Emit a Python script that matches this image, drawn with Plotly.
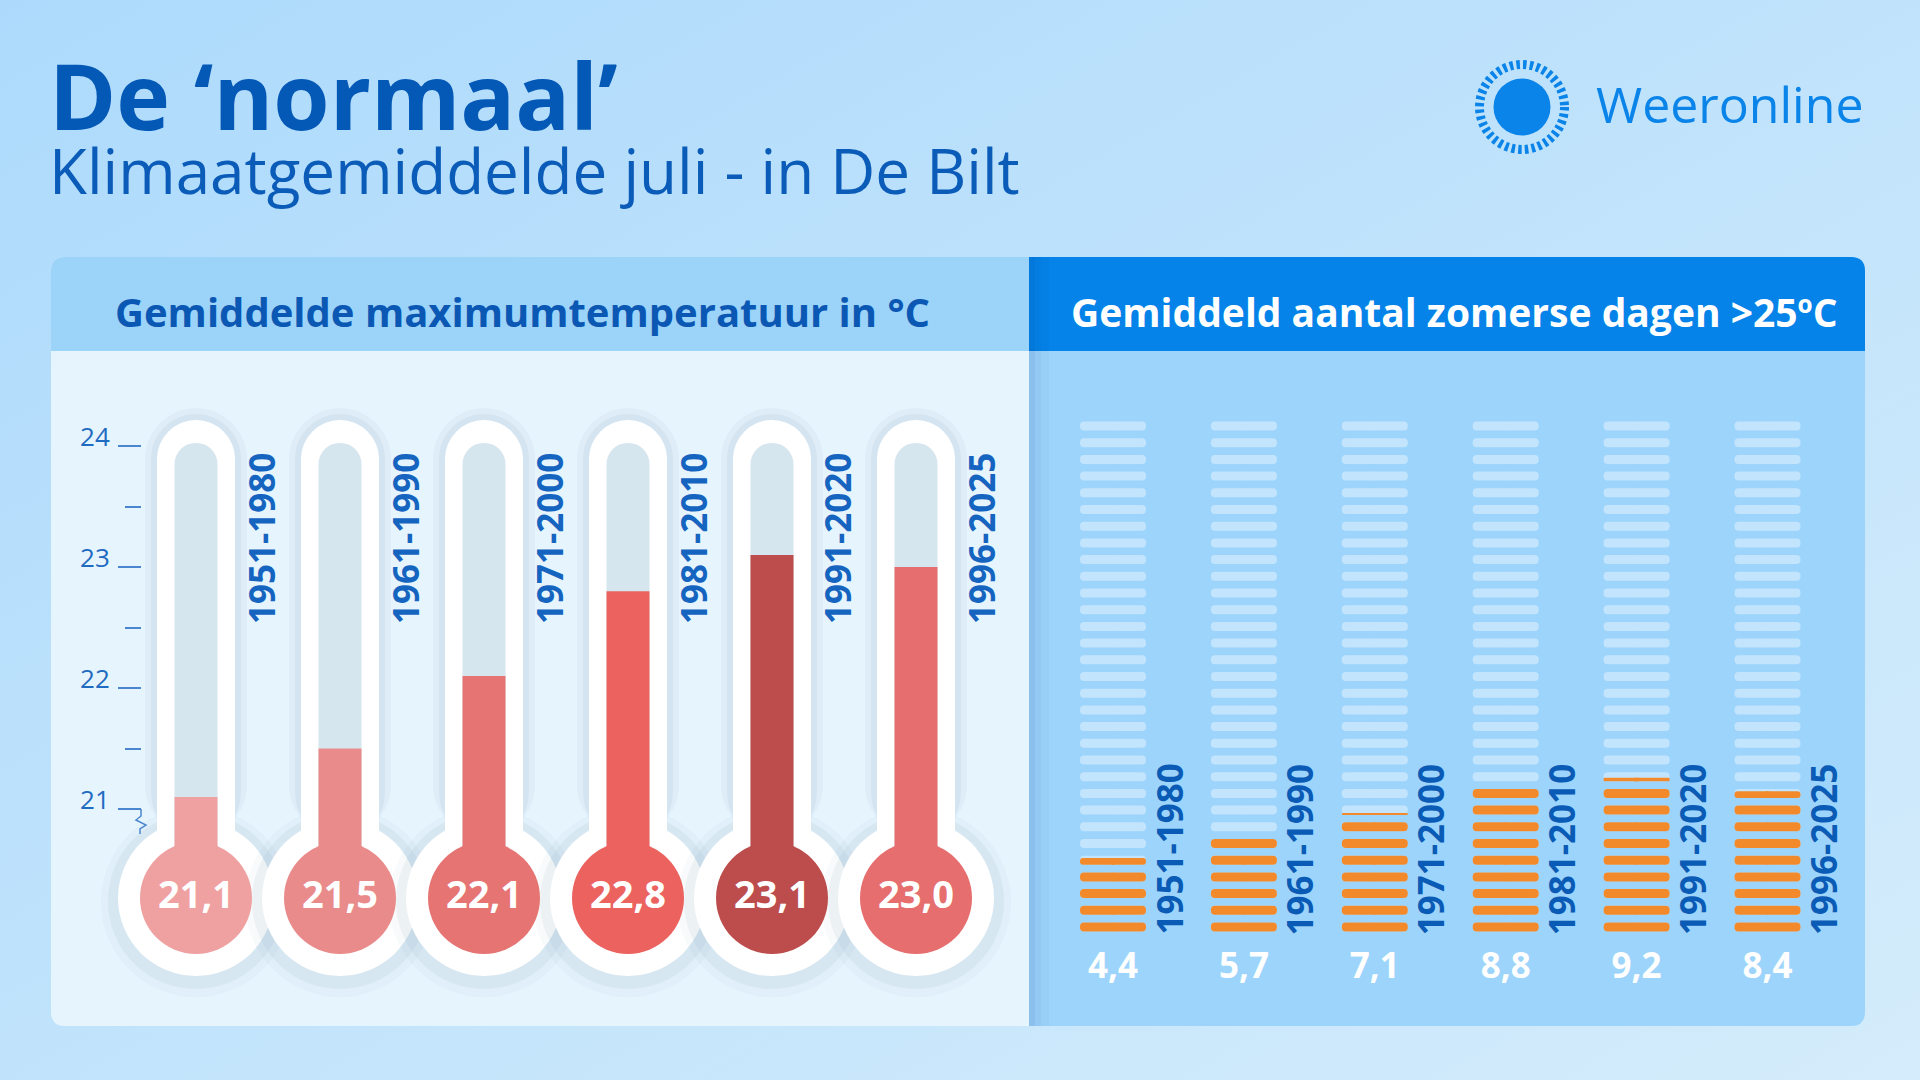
import base64
import plotly.graph_objects as go

# ---------------- data ----------------
periods = ["1951-1980", "1961-1990", "1971-2000", "1981-2010", "1991-2020", "1996-2025"]
tmax_values = [21.1, 21.5, 22.1, 22.8, 23.1, 23.0]
tmax_labels = ["21,1", "21,5", "22,1", "22,8", "23,1", "23,0"]
summer_days = [4.4, 5.7, 7.1, 8.8, 9.2, 8.4]
summer_labels = ["4,4", "5,7", "7,1", "8,8", "9,2", "8,4"]
temp_ticks = [21, 22, 23, 24]
temp_tick_labels = ["21", "22", "23", "24"]
temp_minor_ticks = [21.5, 22.5, 23.5]
days_in_july = 31

title = "De ‘normaal’"
subtitle = "Klimaatgemiddelde juli - in De Bilt"
left_header = "Gemiddelde maximumtemperatuur in °C"
right_header = "Gemiddeld aantal zomerse dagen >25ºC"
brand = "Weeronline"

# ---------------- style / layout ----------------
W, H = 1920, 1080
FONT = "Open Sans"
DARK_BLUE = "#0458B6"
LABEL_BLUE = "#1565C0"
BRAND_BLUE = "#0A84E8"
thermo_colors = ["#EFA1A1", "#E98B8B", "#E57473", "#EB625F", "#BD4D4D", "#E66E6E"]
PILL_LIGHT = "#C3E4FD"
PILL_ORANGE = "#F28A2B"

n = len(periods)
idx = list(range(n))


def PX(x):
    return x / W


def PY(y):
    return 1 - y / H


def rrect(x0, y0, x1, y1, tl=0, tr=0, br=0, bl=0):
    def p(x, y):
        return f"{PX(x):.6f},{PY(y):.6f}"
    s = f"M {p(x0 + tl, y0)} L {p(x1 - tr, y0)} Q {p(x1, y0)} {p(x1, y0 + tr)} "
    s += f"L {p(x1, y1 - br)} Q {p(x1, y1)} {p(x1 - br, y1)} "
    s += f"L {p(x0 + bl, y1)} Q {p(x0, y1)} {p(x0, y1 - bl)} "
    s += f"L {p(x0, y0 + tl)} Q {p(x0, y0)} {p(x0 + tl, y0)} Z"
    return s


# thermometer axis mapping (x: period index, y: degrees C)
T_X0, T_DX = 196, 144.0
T_Y24, T_PPD = 446.0, 121.0


def t_of_px(ypx):
    return 24 - (ypx - T_Y24) / T_PPD


# day-bar axis mapping (x: period index, y: days)
R_X0, R_DX = 1113, 130.9
R_Y0, R_PPU = 931.5, 16.7


def d_of_px(ypx):
    return (R_Y0 - ypx) / R_PPU


bulb_c = t_of_px(898)
tube_top = t_of_px(420)
chan_top = t_of_px(443)
TUBE_W = 78 / T_DX
CHAN_W = 43 / T_DX

fig = go.Figure()

# ---- thermometer tubes ----
for extra, top_px, base_px, col in [(24, 408, 836, "rgba(80,125,160,0.05)"),
                                      (12, 414, 838, "rgba(80,125,160,0.07)")]:
    fig.add_trace(go.Bar(x=idx, y=[t_of_px(top_px) - t_of_px(base_px)] * n,
                         base=[t_of_px(base_px)] * n, width=(78 + extra) / T_DX,
                         marker=dict(color=col, cornerradius=(78 + extra) / 2, line_width=0),
                         hoverinfo="skip", showlegend=False, xaxis="x", yaxis="y"))
fig.add_trace(go.Bar(x=idx, y=[tube_top - bulb_c] * n, base=[bulb_c] * n, width=TUBE_W,
                     marker=dict(color="#FFFFFF", cornerradius=39, line_width=0),
                     hoverinfo="skip", showlegend=False, xaxis="x", yaxis="y"))
fig.add_trace(go.Bar(x=idx, y=[chan_top - bulb_c] * n, base=[bulb_c] * n, width=CHAN_W,
                     marker=dict(color="#D6E6EF", cornerradius=21.5, line_width=0),
                     hoverinfo="skip", showlegend=False, xaxis="x", yaxis="y"))
# mercury column = data
fig.add_trace(go.Bar(x=idx, y=[v - bulb_c for v in tmax_values], base=[bulb_c] * n, width=CHAN_W,
                     marker=dict(color=thermo_colors, line_width=0),
                     hoverinfo="skip", showlegend=False, xaxis="x", yaxis="y"))
# bulbs with value labels
fig.add_trace(go.Scatter(x=idx, y=[bulb_c] * n, mode="markers+text",
                         marker=dict(size=112, color=thermo_colors, line_width=0),
                         text=tmax_labels, textposition="middle center",
                         textfont=dict(family=FONT, size=38, color="#FFFFFF", weight="bold"),
                         hoverinfo="skip", showlegend=False, xaxis="x", yaxis="y"))

# ---- summer-day pills (each pill = one day of July) ----
PILL_H = 0.54
PILL_HALF = 33 / R_DX
OVL = 3 / R_DX  # small overlap so the two rounded halves join seamlessly
ly, lb = [], []
for i in idx:
    for k in range(days_in_july):
        ly.append(k + PILL_H / 2)
        lb.append(i)
oy, ob, ow = [], [], []
for i, v in enumerate(summer_days):
    for k in range(days_in_july):
        if v > k:
            top = min(v, k + PILL_H)
            th = top - k
            oy.append(k + th / 2)
            ob.append(i)
            ow.append(th)
for color, ys, bs, ws in [(PILL_LIGHT, ly, lb, PILL_H), (PILL_ORANGE, oy, ob, ow)]:
    for sign in (1, -1):
        fig.add_trace(go.Bar(orientation="h", x=[sign * (PILL_HALF + OVL)] * len(ys), y=ys,
                             base=[b - sign * OVL for b in bs], width=ws,
                             marker=dict(color=color, cornerradius=5, line_width=0),
                             hoverinfo="skip", showlegend=False, xaxis="x2", yaxis="y2"))
fig.add_trace(go.Scatter(x=idx, y=[d_of_px(969)] * n, mode="text", text=summer_labels,
                         textposition="middle center",
                         textfont=dict(family=FONT, size=35, color="#FFFFFF", weight="bold"),
                         hoverinfo="skip", showlegend=False, xaxis="x2", yaxis="y2"))

# ---------------- shapes ----------------
shapes = []
shapes.append(dict(type="path", path=rrect(51, 257, 1029, 1026, tl=14, bl=14), xref="paper", yref="paper",
                   fillcolor="#E6F4FD", line_width=0, layer="below"))
shapes.append(dict(type="path", path=rrect(1029, 257, 1865, 1026, tr=14, br=14), xref="paper", yref="paper",
                   fillcolor="#9DD4FB", line_width=0, layer="below"))
shapes.append(dict(type="path", path=rrect(1029, 257, 1865, 351, tr=14), xref="paper", yref="paper",
                   fillcolor="#0583E8", line_width=0, layer="below"))
shapes.append(dict(type="path", path=rrect(51, 257, 1029, 351, tl=14), xref="paper", yref="paper",
                   fillcolor="#9CD3F9", line_width=0, layer="below"))
for w_, a_ in [(20, 0.03), (12, 0.04), (6, 0.05)]:
    shapes.append(dict(type="rect", xref="paper", yref="paper", x0=PX(1029), x1=PX(1029 + w_),
                       y0=PY(1026), y1=PY(257), fillcolor=f"rgba(0,50,120,{a_})", line_width=0, layer="below"))
# bulb outer glass + soft shadow
for i in idx:
    for r, col, dy in [(95, "rgba(80,125,160,0.04)", -4), (88, "rgba(80,125,160,0.07)", -3), (78, "#FFFFFF", 0)]:
        shapes.append(dict(type="circle", xref="x", yref="y", xsizemode="pixel", ysizemode="pixel",
                           xanchor=i, yanchor=bulb_c, x0=-r, x1=r, y0=-r + dy, y1=r + dy,
                           fillcolor=col, line_width=0, layer="below"))
# axis break zigzag under 21
y21 = T_Y24 + 3 * T_PPD
zz = [(141, y21), (141, y21 + 7), (136, y21 + 11), (146, y21 + 16), (140, y21 + 20), (140, y21 + 25)]
shapes.append(dict(type="path", xref="paper", yref="paper",
                   path="M " + " L ".join(f"{PX(a):.6f},{PY(b):.6f}" for a, b in zz),
                   line=dict(color="#4A86D0", width=1.5), layer="above"))
# logo
cx, cy = 1522, 107
shapes.append(dict(type="circle", xref="paper", yref="paper", x0=PX(cx - 28.5), x1=PX(cx + 28.5),
                   y0=PY(cy + 28.5), y1=PY(cy - 28.5), fillcolor=BRAND_BLUE, line_width=0))
shapes.append(dict(type="circle", xref="paper", yref="paper", x0=PX(cx - 42.5), x1=PX(cx + 42.5),
                   y0=PY(cy + 42.5), y1=PY(cy - 42.5), fillcolor="rgba(0,0,0,0)",
                   line=dict(color=BRAND_BLUE, width=9, dash="3.5px,3.2px")))

# ---------------- annotations ----------------
ann = []
# title + subtitle in one text block (line spacing = 1.3 x 49px ~ 64px between baselines)
title_block = (f"<span style='font-size:91px;font-weight:bold;color:{DARK_BLUE}'>{title}</span><br>"
               f"<span style='font-size:62px;color:#0A5CB8'>{subtitle}</span>")
ann.append(dict(x=PX(47), y=PY(31), xref="paper", yref="paper", xanchor="left", yanchor="top",
                text=title_block, showarrow=False, align="left",
                font=dict(family=FONT, size=49, color=DARK_BLUE)))
ann.append(dict(x=PX(1594), y=PY(104), xref="paper", yref="paper", xanchor="left", yanchor="middle",
                text=brand, showarrow=False, font=dict(family=FONT, size=50, color=BRAND_BLUE)))
ann.append(dict(x=PX(522), y=PY(311), xref="paper", yref="paper", xanchor="center", yanchor="middle",
                text=left_header, showarrow=False,
                font=dict(family=FONT, size=40, color="#0A58B3", weight="bold")))
ann.append(dict(x=PX(1454), y=PY(311), xref="paper", yref="paper", xanchor="center", yanchor="middle",
                text=right_header, showarrow=False,
                font=dict(family=FONT, size=39, color="#FFFFFF", weight="bold")))
for i, p in enumerate(periods):
    ann.append(dict(x=i, y=t_of_px(539), xref="x", yref="y", xshift=65, text=p, textangle=-90,
                    showarrow=False, xanchor="center", yanchor="middle",
                    font=dict(family=FONT, size=35, color=LABEL_BLUE, weight="bold")))
    ann.append(dict(x=i, y=d_of_px(849.5), xref="x2", yref="y2", xshift=56, text=p, textangle=-90,
                    showarrow=False, xanchor="center", yanchor="middle",
                    font=dict(family=FONT, size=35, color="#0A5BB5", weight="bold")))

# ---------------- background ----------------
svg = ("<svg xmlns='http://www.w3.org/2000/svg' width='1920' height='1080'>"
       "<defs><linearGradient id='g' x1='0' y1='0' x2='1' y2='1'>"
       "<stop offset='0' stop-color='#ADDAFC'/><stop offset='1' stop-color='#D4ECFB'/>"
       "</linearGradient></defs><rect width='1920' height='1080' fill='url(#g)'/></svg>")
bg_uri = "data:image/svg+xml;base64," + base64.b64encode(svg.encode()).decode()

fig.update_layout(
    width=W, height=H, autosize=False,
    margin=dict(l=0, r=0, t=0, b=0, pad=0),
    paper_bgcolor="#BFE2FC", plot_bgcolor="rgba(0,0,0,0)",
    barmode="overlay", showlegend=False,
    images=[dict(source=bg_uri, xref="paper", yref="paper", x=0, y=1, sizex=1, sizey=1,
                 sizing="stretch", xanchor="left", yanchor="top", layer="below")],
    xaxis=dict(domain=[0, 1], range=[-T_X0 / T_DX, (W - T_X0) / T_DX], visible=False,
               anchor="y", fixedrange=True),
    yaxis=dict(domain=[0, 1], range=[t_of_px(H), t_of_px(0)], anchor="free", position=141 / W,
               side="left", tickmode="array", tickvals=temp_ticks, ticktext=temp_tick_labels,
               ticks="outside", ticklen=23, tickwidth=1.5, tickcolor="#4A86D0",
               tickfont=dict(family=FONT, size=26, color="#1F6BC1"),
               minor=dict(tickvals=temp_minor_ticks, ticks="outside", ticklen=16, tickwidth=1.5,
                          tickcolor="#4A86D0", showgrid=False),
               ticklabelshift=-9, ticklabelstandoff=3,
               showgrid=False, zeroline=False, showline=False, fixedrange=True),
    xaxis2=dict(domain=[0, 1], range=[-R_X0 / R_DX, (W - R_X0) / R_DX], visible=False,
                anchor="y2", fixedrange=True),
    yaxis2=dict(domain=[0, 1], range=[d_of_px(H), d_of_px(0)], visible=False,
                anchor="x2", fixedrange=True),
    shapes=shapes, annotations=ann,
)

fig.write_html("out.html", config={"displayModeBar": False})
